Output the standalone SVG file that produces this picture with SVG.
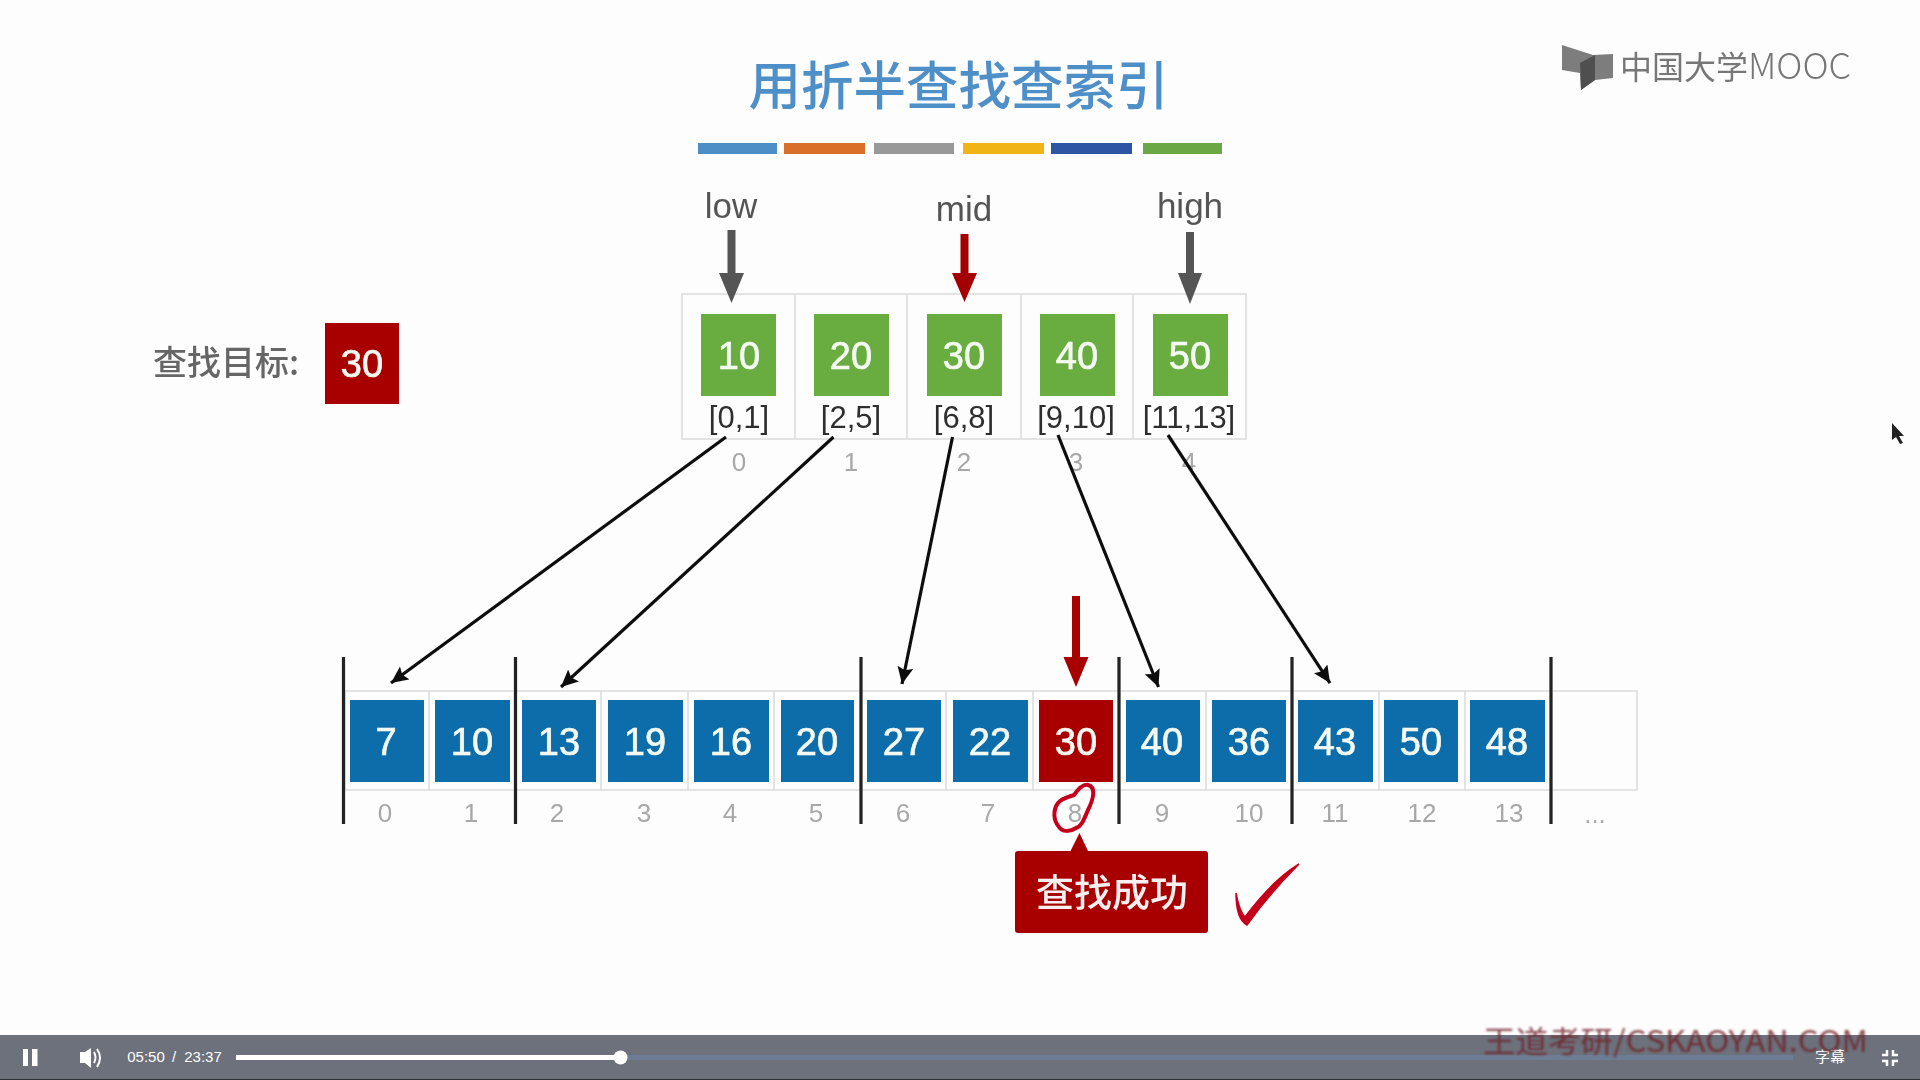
<svg xmlns="http://www.w3.org/2000/svg" width="1920" height="1080" viewBox="0 0 1920 1080">
<defs>
<style>
text{font-family:"Liberation Sans",Arial,"Noto Sans CJK SC",sans-serif;text-anchor:middle}
.cjk{font-family:"Noto Sans CJK SC","Liberation Sans",sans-serif}
.cell{fill:none;stroke:#dcdcdc;stroke-width:1.5}
.green{fill:#69ac40}.blue{fill:#0c6dab}.red{fill:#a80000}
.num{fill:#f4f9f2;font-size:38px;stroke:#f4f9f2;stroke-width:.7px}
.range{fill:#2f2f2f;font-size:31px}
.idx{fill:#a8a8a8;font-size:26px}
.ptr{fill:#555;font-size:35px}
.sep{stroke:#222;stroke-width:3.2}
.conn{stroke:#111;stroke-width:3.200;fill:none;marker-end:url(#ah)}
.ui{fill:#fff}
</style>
<marker id="ah" markerUnits="userSpaceOnUse" markerWidth="20" markerHeight="18" refX="17" refY="8" orient="auto"><path d="M0,0L17,8L0,16L3,8Z" fill="#111"/></marker>
<filter id="soft" x="-2%" y="-2%" width="104%" height="104%"><feGaussianBlur stdDeviation="0.7"/></filter>
<filter id="soft2" x="-5%" y="-20%" width="110%" height="140%"><feGaussianBlur stdDeviation="0.9"/></filter>
</defs>
<rect width="1920" height="1080" fill="#fefdfe"/>
<g filter="url(#soft)">
<g id="title"><text class="cjk" x="958.500" y="105" font-size="52.500" font-weight="500" fill="#4f8fc8">用折半查找查索引</text>
<rect x="698" y="143" width="79" height="11" fill="#4d8ec6"/><rect x="784" y="143" width="81" height="11" fill="#d9702c"/><rect x="874" y="143" width="80" height="11" fill="#999"/><rect x="963" y="143" width="81" height="11" fill="#f0b414"/><rect x="1051" y="143" width="81" height="11" fill="#2f55a4"/><rect x="1143" y="143" width="79" height="11" fill="#6aa844"/></g>
<g id="logo"><path d="M1562,45L1593,55L1613,54V78L1595,80L1581,90L1580,73L1562,70Z" fill="#7d7d7d"/><path d="M1580,63L1595,55V80L1581,90Z" fill="#4f4f4f"/>
<text class="cjk" x="1620" y="79" font-size="32" fill="#777" style="text-anchor:start">中国大学<tspan font-size="36" font-weight="300">MOOC</tspan></text></g>
<g id="target"><text class="cjk" x="226" y="375" font-size="34" font-weight="500" fill="#666">查找目标:</text><rect class="red" x="325" y="323" width="74" height="81"/><text class="num" x="362" y="377">30</text></g>
<g id="index-table"><rect class="cell" x="682" y="294" width="564" height="145"/><path class="cell" d="M795,294V439M907,294V439M1021,294V439M1133,294V439"/></g>
<g id="idx-0"><rect class="green" x="701" y="314" width="75" height="82"/><text class="num" x="739" y="369">10</text><text class="range" x="739" y="428">[0,1]</text><text class="idx" x="739" y="471">0</text></g>
<g id="idx-1"><rect class="green" x="814" y="314" width="75" height="82"/><text class="num" x="851" y="369">20</text><text class="range" x="851" y="428">[2,5]</text><text class="idx" x="851" y="471">1</text></g>
<g id="idx-2"><rect class="green" x="927" y="314" width="75" height="82"/><text class="num" x="964" y="369">30</text><text class="range" x="964" y="428">[6,8]</text><text class="idx" x="964" y="471">2</text></g>
<g id="idx-3"><rect class="green" x="1040" y="314" width="75" height="82"/><text class="num" x="1077" y="369">40</text><text class="range" x="1076" y="428">[9,10]</text><text class="idx" x="1076" y="471">3</text></g>
<g id="idx-4"><rect class="green" x="1153" y="314" width="75" height="82"/><text class="num" x="1190" y="369">50</text><text class="range" x="1189" y="428">[11,13]</text><text class="idx" x="1189" y="471">4</text></g>
<g id="low"><text class="ptr" x="731" y="218">low</text><path d="M727.500,230H735.500V273H744L731.500,303L719,273H727.500Z" fill="#555"/></g>
<g id="mid"><text class="ptr" x="964" y="221">mid</text><path d="M960.500,234H968.500V273H977L964.500,302L952,273H960.500Z" fill="#a50000"/></g>
<g id="high"><text class="ptr" x="1190" y="218">high</text><path d="M1186,232H1194V273H1202L1190,304L1178,273H1186Z" fill="#555"/></g>
<g id="main-table"><rect class="cell" x="345" y="691" width="1292" height="99"/><path class="cell" d="M429,691V790M515,691V790M601,691V790M688,691V790M774,691V790M860,691V790M946,691V790M1033,691V790M1119,691V790M1206,691V790M1292,691V790M1379,691V790M1465,691V790M1551,691V790"/></g>
<g id="e0"><rect class="blue" x="350" y="700" width="74" height="82"/><text class="num" x="386" y="755">7</text><text class="idx" x="385" y="822">0</text></g>
<g id="e1"><rect class="blue" x="435" y="700" width="75" height="82"/><text class="num" x="472" y="755">10</text><text class="idx" x="471" y="822">1</text></g>
<g id="e2"><rect class="blue" x="522" y="700" width="74" height="82"/><text class="num" x="559" y="755">13</text><text class="idx" x="557" y="822">2</text></g>
<g id="e3"><rect class="blue" x="608" y="700" width="75" height="82"/><text class="num" x="645" y="755">19</text><text class="idx" x="644" y="822">3</text></g>
<g id="e4"><rect class="blue" x="694" y="700" width="75" height="82"/><text class="num" x="731" y="755">16</text><text class="idx" x="730" y="822">4</text></g>
<g id="e5"><rect class="blue" x="781" y="700" width="73" height="82"/><text class="num" x="817" y="755">20</text><text class="idx" x="816" y="822">5</text></g>
<g id="e6"><rect class="blue" x="867" y="700" width="74" height="82"/><text class="num" x="904" y="755">27</text><text class="idx" x="903" y="822">6</text></g>
<g id="e7"><rect class="blue" x="953" y="700" width="75" height="82"/><text class="num" x="990" y="755">22</text><text class="idx" x="988" y="822">7</text></g>
<g id="e8"><rect class="red" x="1039" y="700" width="74" height="82"/><text class="num" x="1076" y="755">30</text><text class="idx" x="1075" y="822">8</text></g>
<g id="e9"><rect class="blue" x="1126" y="700" width="74" height="82"/><text class="num" x="1162" y="755">40</text><text class="idx" x="1162" y="822">9</text></g>
<g id="e10"><rect class="blue" x="1212" y="700" width="74" height="82"/><text class="num" x="1249" y="755">36</text><text class="idx" x="1249" y="822">10</text></g>
<g id="e11"><rect class="blue" x="1298" y="700" width="75" height="82"/><text class="num" x="1335" y="755">43</text><text class="idx" x="1335" y="822">11</text></g>
<g id="e12"><rect class="blue" x="1384" y="700" width="74" height="82"/><text class="num" x="1421" y="755">50</text><text class="idx" x="1422" y="822">12</text></g>
<g id="e13"><rect class="blue" x="1470" y="700" width="75" height="82"/><text class="num" x="1507" y="755">48</text><text class="idx" x="1509" y="822">13</text></g>
<text class="idx" x="1595" y="823">...</text>
<g id="separators"><path class="sep" d="M343.500,657V824M515.500,657V824M861,657V824M1119,657V824M1292,657V824M1551,657V824"/></g>
<g id="connectors"><path class="conn" d="M726,437L391,683"/><path class="conn" d="M833.500,437L561,687"/><path class="conn" d="M952.500,437L902,684"/><path class="conn" d="M1058,435L1158.500,687"/><path class="conn" d="M1168,435L1330,683"/></g>
<g id="hit-arrow"><path d="M1072,596H1080V657H1088.500L1076,687L1063.500,657H1072Z" fill="#a80000"/></g>
<path id="scribble" d="M1074,795C1079,788 1084,784 1088,785C1096,787 1094,798 1088,810C1084,819 1082,826 1076,828C1070,832 1062,832 1059,827C1053,820 1053,810 1058,803C1062,798 1068,797 1074,795Z" fill="none" stroke="#c4001a" stroke-width="4"/>
<g id="success"><path d="M1018,851H1070.500L1079.500,833L1088,851H1205Q1208,851 1208,854V930Q1208,933 1205,933H1018Q1015,933 1015,930V854Q1015,851 1018,851Z" fill="#a80000"/><text class="cjk" x="1112" y="906" font-size="38" font-weight="500" fill="#f6f0f0">查找成功</text></g>
<path id="check" d="M1236,893C1238,904 1240,912 1245,917C1262,894 1278,877 1299,864C1282,881 1265,900 1247,925C1239,921 1236,908 1236,893Z" fill="#c4001a" stroke="#c4001a" stroke-width="1.500"/>
<path id="cursor" d="M1892,423L1904,436L1899,436L1903,443L1900,444L1896,437L1892,440Z" fill="#222"/>
</g>
<g id="player">
<rect y="1035" width="1920" height="45" fill="#6c717b"/><rect y="1079" width="1920" height="1" fill="#2a2f36"/>
<rect x="236" y="1055" width="385" height="5" fill="#fff"/><rect x="620" y="1055" width="1173" height="5" fill="#6d7d96"/><circle cx="620.500" cy="1057.500" r="7" fill="#fff"/>
<rect class="ui" x="23" y="1049" width="5" height="17"/><rect class="ui" x="32" y="1049" width="5.500" height="17"/>
<path class="ui" d="M80,1052H85L91,1048V1068L85,1063H80Z"/><path d="M94,1052Q97,1057.500 94,1063M97,1049Q103,1057.500 97,1067" fill="none" stroke="#fff" stroke-width="2"/>
<text class="ui" x="146" y="1062" font-size="15">05:50</text><text class="ui" x="174" y="1062" font-size="15">/</text><text class="ui" x="203" y="1062" font-size="15">23:37</text>
<text class="ui cjk" x="1830" y="1062" font-size="15">字幕</text>
<path d="M1887,1050V1055H1882M1893,1050V1055H1898M1887,1066V1061H1882M1893,1066V1061H1898" fill="none" stroke="#fff" stroke-width="2.500"/>
</g>
<text id="watermark" class="cjk" x="1483" y="1052" font-size="30" fill="#6e2226" fill-opacity="0.8" style="text-anchor:start" textLength="385" lengthAdjust="spacingAndGlyphs" filter="url(#soft2)">王道考研/CSKAOYAN.COM</text>
</svg>
